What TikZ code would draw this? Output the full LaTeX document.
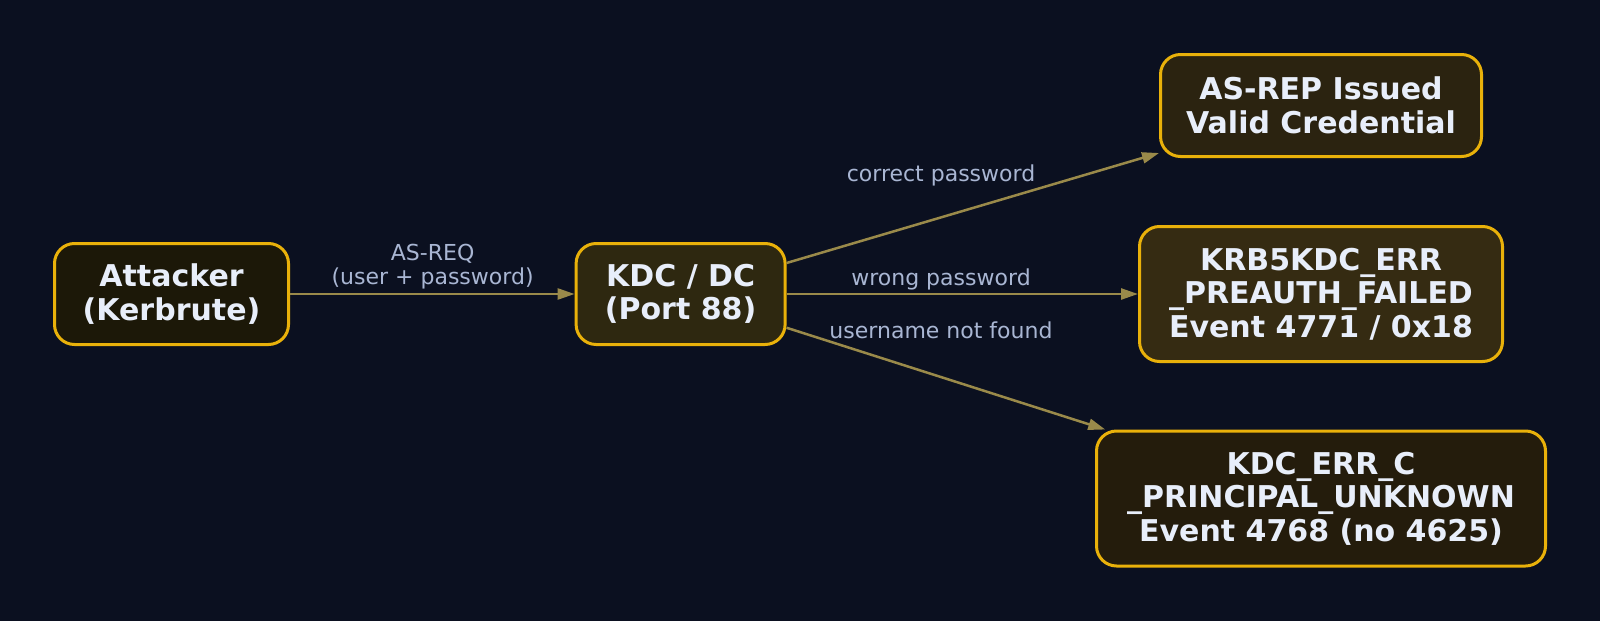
\documentclass[tikz,border=0pt]{standalone}
\usepackage{fontspec}
\setmainfont{DejaVu Sans}
\usetikzlibrary{arrows.meta}

\definecolor{bgnavy}{HTML}{0B1020}
\definecolor{gold}{HTML}{E9B10A}
\definecolor{olive}{HTML}{9A8A4A}
\definecolor{paletext}{HTML}{E8EEFA}
\definecolor{greyblue}{HTML}{A9B6D3}
\definecolor{fillatk}{HTML}{1C1808}
\definecolor{fillkdc}{HTML}{2E2810}
\definecolor{fillrep}{HTML}{2B2310}
\definecolor{fillpre}{HTML}{352B12}
\definecolor{fillunk}{HTML}{241C0C}

\begin{document}
\begin{tikzpicture}[x=1pt, y=-1pt,
    box/.style={draw=gold, line width=3pt, rounded corners=20pt, align=center,
      text=paletext, font=\bfseries\fontsize{30}{33.5}\selectfont, inner sep=0pt},
    edge/.style={draw=olive, line width=2.5pt, -{Triangle[length=17pt, width=11pt]}},
    lbl/.style={text=greyblue, align=center, font=\fontsize{22}{24}\selectfont}]
    \fill [bgnavy] (0,0) rectangle (1600,621);
    \useasboundingbox (0,0) rectangle (1600,621);
    % the five boxes
    \node (attacker) at (171.5,294) [box, fill=fillatk, minimum width=234pt, minimum height=101pt] {Attacker\\(Kerbrute)};
    \node (kdc) at (680.6,294) [box, fill=fillkdc, minimum width=209pt, minimum height=101pt] {KDC / DC\\(Port 88)};
    \node (asrep) at (1321,105.5) [box, fill=fillrep, minimum width=321pt, minimum height=102pt] {AS-REP Issued\\Valid Credential};
    \node (preauth) at (1321,294) [box, fill=fillpre, minimum width=363pt, minimum height=135pt] {KRB5KDC\_ERR\\\_PREAUTH\_FAILED\\Event 4771 / 0x18};
    \node (unknown) at (1321,498.5) [box, fill=fillunk, minimum width=449pt, minimum height=135pt] {KDC\_ERR\_C\\\_PRINCIPAL\_UNKNOWN\\Event 4768 (no 4625)};
    % connectors
    \draw [edge] (attacker) -- (kdc);
    \draw [edge] (kdc) -- (asrep);
    \draw [edge] (kdc) -- (preauth);
    \draw [edge] (kdc) -- (unknown);
    % labels
    \node (asreq) at (432.6,267) [lbl] {AS-REQ\\(user + password)};
    \node (correct) at (941,175.5) [lbl] {correct password};
    \node (wrong) at (941,279.6) [lbl] {wrong password};
    \node (notfound) at (941,330.6) [lbl] {username not found};
\end{tikzpicture}
\end{document}
